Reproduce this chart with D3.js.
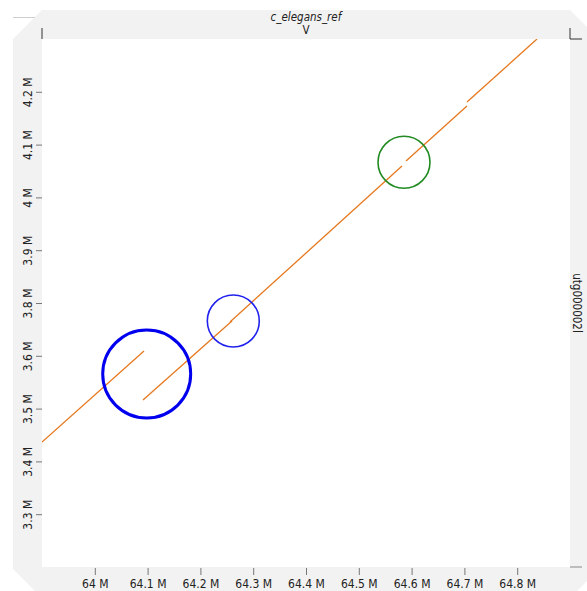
<!DOCTYPE html>
<html><head><meta charset="utf-8">
<script src="https://cdn.jsdelivr.net/npm/d3@7"></script>
<style>
html,body{margin:0;padding:0;background:#fff;}
svg{display:block;}
text{font-family:"Liberation Sans Narrow","DejaVu Sans Condensed","Arial Narrow",sans-serif;fill:#222;}
</style></head>
<body>
<svg id="chart" width="587" height="591"></svg>
<script>
// ---- data (in Mb) ----
const refName = "c_elegans_ref";
const refStrand = "V";
const queryName = "utg000002l";
const xDomain = [63.9, 64.9];
const yDomain = [3.3, 4.3];
const xTicks = [64.0, 64.1, 64.2, 64.3, 64.4, 64.5, 64.6, 64.7, 64.8];
const xTickLabels = ["64 M", "64.1 M", "64.2 M", "64.3 M", "64.4 M", "64.5 M", "64.6 M", "64.7 M", "64.8 M"];
const yTicks = [4.2, 4.1, 4.0, 3.9, 3.8, 3.7, 3.6, 3.5, 3.4];
const yTickLabels = ["4.2 M", "4.1 M", "4 M", "3.9 M", "3.8 M", "3.6 M", "3.5 M", "3.4 M", "3.3 M"];
// alignment segments
const segRefStart   = [63.900, 64.0913, 64.256, 64.5894, 64.7049];
const segRefEnd     = [64.0932, 64.2598, 64.5818, 64.7049, 64.8375];
const segQueryStart = [3.5367, 3.6163, 3.764, 4.0689, 4.1807];
const segQueryEnd   = [3.7091, 3.7659, 4.0595, 4.1731, 4.3000];
// highlighted regions (circles)
const circRef   = [64.0983, 64.2623, 64.5856];
const circQuery = [3.6655, 3.7659, 4.0665];
const circRadius = [0.0833, 0.0492, 0.0492];
const circKind  = ["major", "minor", "other"];

// ---- layout ----
const svg = d3.select("#chart");
const L = 42, R = 570, T = 39, B = 567;
const x = d3.scaleLinear().domain(xDomain).range([L, R]);
const y = d3.scaleLinear().domain(yDomain).range([B, T]);

// grey frame (chamfered)
const fx0 = 13, fy0 = 10, fx1 = 599, fy1 = 598, c = 29;
svg.append("polygon")
  .attr("points", [[fx0 + c, fy0], [fx1 - c, fy0], [fx1, fy0 + c], [fx1, fy1 - c], [fx1 - c, fy1], [fx0 + c, fy1], [fx0, fy1 - c], [fx0, fy0 + c]].map(p => p.join(",")).join(" "))
  .attr("fill", "#f2f2f2");
svg.append("line").attr("x1", 13).attr("x2", 35).attr("y1", 17.5).attr("y2", 17.5)
  .attr("stroke", "#cfcfcf").attr("stroke-width", 1);

// plot area
svg.append("rect").attr("x", L).attr("y", T).attr("width", R - L).attr("height", B - T).attr("fill", "#fff");

svg.append("clipPath").attr("id", "clip").append("rect")
  .attr("x", L).attr("y", T).attr("width", R - L).attr("height", B - T);

const plot = svg.append("g").attr("clip-path", "url(#clip)");

plot.selectAll("line.seg").data(segRefStart.map((d, i) => i)).enter().append("line")
  .attr("class", "seg")
  .attr("x1", i => x(segRefStart[i])).attr("y1", i => y(segQueryStart[i]))
  .attr("x2", i => x(segRefEnd[i])).attr("y2", i => y(segQueryEnd[i]))
  .attr("stroke", "#e6781e").attr("stroke-width", 1.3);

const circColor = {major: "#0000ee", minor: "#2222ee", other: "#228b22"};
const circWidth = {major: 3, minor: 1.6, other: 1.6};
plot.selectAll("circle").data(circRef.map((d, i) => i)).enter().append("circle")
  .attr("cx", i => x(circRef[i])).attr("cy", i => y(circQuery[i]))
  .attr("r", i => x(circRef[i] + circRadius[i]) - x(circRef[i]))
  .attr("fill", "none")
  .attr("stroke", i => circColor[circKind[i]])
  .attr("stroke-width", i => circWidth[circKind[i]]);

// x axis
const xAxis = svg.append("g").attr("transform", `translate(0,${B})`)
  .call(d3.axisBottom(x).tickValues(xTicks).tickFormat((d, i) => xTickLabels[i]).tickSize(7).tickSizeOuter(0));
xAxis.select(".domain").remove();
xAxis.selectAll(".tick line").attr("stroke", "#777").attr("transform", "translate(0,1)");
xAxis.selectAll(".tick text").attr("y", 12).attr("font-size", 12).style("fill", "#222");

// y axis
const yAxis = svg.append("g").attr("transform", `translate(${L},0)`)
  .call(d3.axisLeft(y).tickValues(yTicks).tickFormat((d, i) => yTickLabels[i]).tickSize(6).tickSizeOuter(0));
yAxis.select(".domain").remove();
yAxis.selectAll(".tick line").attr("stroke", "#777");
yAxis.selectAll(".tick text")
  .attr("x", 0).attr("y", 0).attr("dy", 0)
  .attr("text-anchor", "middle")
  .attr("transform", "translate(-10,0) rotate(-90)")
  .attr("font-size", 12).style("fill", "#222");

// corner marks
svg.append("line").attr("x1", L).attr("x2", L).attr("y1", 28).attr("y2", T).attr("stroke", "#333");
svg.append("path").attr("d", `M${R},28V${T}H582`).attr("fill", "none").attr("stroke", "#333");
svg.append("line").attr("x1", R).attr("x2", 582).attr("y1", B).attr("y2", B).attr("stroke", "#888");

// titles
svg.append("text").attr("x", (L + R) / 2).attr("y", 21).attr("text-anchor", "middle")
  .attr("font-size", 11.5).attr("font-style", "italic").text(refName);
svg.append("text").attr("x", (L + R) / 2).attr("y", 34).attr("text-anchor", "middle")
  .attr("font-size", 11.5).text(refStrand);
svg.append("text").attr("transform", `translate(573,${(T + B) / 2}) rotate(90)`)
  .attr("text-anchor", "middle").attr("font-size", 11.5).text(queryName);
</script>
</body></html>
